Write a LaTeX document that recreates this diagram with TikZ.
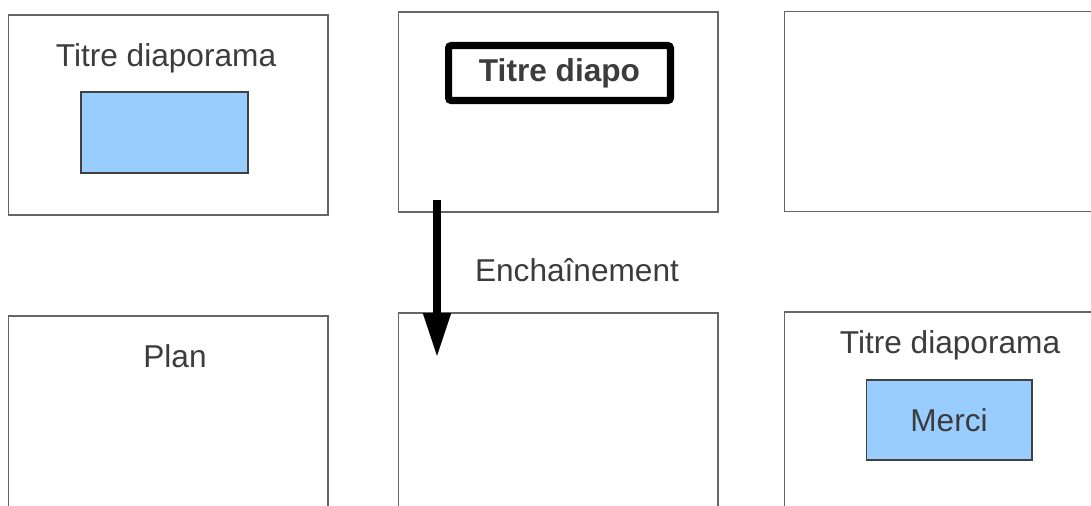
\documentclass[tikz,border=0pt]{standalone}
\usepackage{fontspec}
\setmainfont{Liberation Sans}
\usetikzlibrary{arrows.meta}
\definecolor{slideline}{HTML}{666666}
\definecolor{txtgray}{HTML}{3C3C3C}
\definecolor{paleblue}{HTML}{99CCFF}
\tikzset{
  slide/.style={draw=slideline, line width=0.6pt, minimum width=6.4cm, minimum height=4cm, inner sep=0pt},
  blue box/.style={draw=black!75, line width=0.6pt, fill=paleblue, inner sep=0pt},
  label/.style={text=txtgray, font=\fontsize{18}{22}\selectfont, inner sep=0pt}
}

\begin{document}
\begin{tikzpicture}[x=0.02cm, y=-0.02cm]
	%%%%% START %%%%%
	\useasboundingbox (0,0) rectangle (1091,506);
	
	% premiere rangee
	\node[slide] (titre) at (168, 115) {};
	\node[label] (titretxt) at (166, 58) {Titre diaporama};
	\node[blue box, minimum width=3.34cm, minimum height=1.62cm] (bleu) at (164.5, 132.5) {};
	
	\node[slide] (diapo) at (558, 112) {};
	\node[label, draw=black, line width=4pt, rounded corners=1.5pt, minimum width=4.44cm, minimum height=1.1cm, font=\fontsize{18}{22}\selectfont\bfseries] (diapotxt) at (559.5, 73) {Titre diapo};
	
	\node[slide] (vide) at (944, 111.5) {};
	
	% seconde rangee
	\node[slide] (plan) at (168, 416) {};
	\node[label] (plantxt) at (175, 356) {Plan};
	
	\node[slide] (suite) at (558, 413) {};
	
	\node[slide] (fin) at (944, 412) {};
	\node[label] (fintxt) at (950, 345) {Titre diaporama};
	\node[blue box, minimum width=3.32cm, minimum height=1.6cm, text=txtgray, font=\fontsize{18}{22}\selectfont] (merci) at (949, 420) {Merci};
	
	% enchainement
	\coordinate (depart) at (437, 200);
	\coordinate (arrivee) at (437, 357);
	\draw[line width=4pt, -{Triangle[length=25pt, width=15pt]}] (depart) -- (arrivee);
	\node[label] (ench) at (577, 270) {Enchaînement};
	
	%%%%% END %%%%%
\end{tikzpicture}
\end{document}
